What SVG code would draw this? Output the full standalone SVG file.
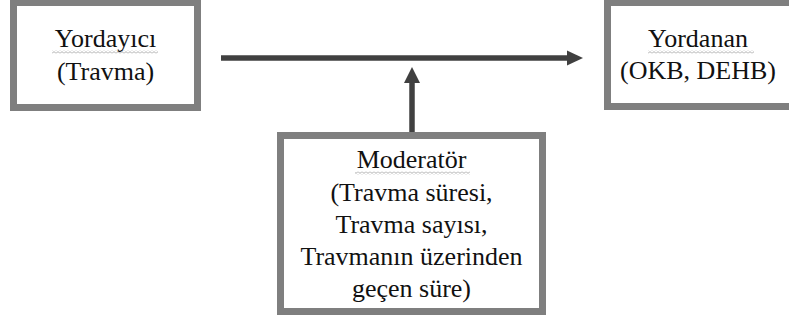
<svg xmlns="http://www.w3.org/2000/svg" width="789" height="320" viewBox="0 0 789 320">
  <style>
    .box { fill: #ffffff; stroke: #7f7f7f; stroke-width: 7; }
    .label { font-family: "Liberation Serif", "Times New Roman", Times, "DejaVu Serif", serif; font-size: 26px; fill: #111111; text-anchor: middle; }
    .wire { stroke: #404040; stroke-width: 5.5; fill: none; }
    .head { fill: #404040; }
  </style>
  <defs>
    <!-- wavy proofing underline -->
    <pattern id="squiggle" width="4" height="3" patternUnits="userSpaceOnUse">
      <path d="M0,2.4 L2,0.6 L4,2.4" fill="none" stroke="#a8a8a8" stroke-width="0.9"/>
    </pattern>
  </defs>
  <rect width="789" height="320" fill="#ffffff"/>

  <g id="connectors">
    <line class="wire" x1="221" y1="58" x2="569" y2="58"/>
    <polygon class="head" points="567,50.5 583,58 567,65.5"/>
    <line class="wire" x1="412" y1="132" x2="412" y2="81"/>
    <polygon class="head" points="404,83 420,83 412,67"/>
  </g>

  <g id="predictor">
    <rect class="box" x="13.5" y="2.5" width="184" height="105"/>
    <text class="label" x="105.5" y="47">Yordayıcı</text>
    <rect x="52" y="50.5" width="106" height="3" fill="url(#squiggle)"/>
    <text class="label" x="105.5" y="80">(Travma)</text>
  </g>

  <g id="outcome">
    <rect class="box" x="607.5" y="2.5" width="188" height="104"/>
    <text class="label" x="698" y="47">Yordanan</text>
    <rect x="648" y="50.5" width="106" height="3" fill="url(#squiggle)"/>
    <text class="label" x="698" y="79">(OKB, DEHB)</text>
  </g>

  <g id="moderator">
    <rect class="box" x="280.5" y="135.5" width="262" height="176"/>
    <text class="label" x="411.5" y="168">Moderatör</text>
    <rect x="355" y="171.5" width="115" height="3" fill="url(#squiggle)"/>
    <text class="label" x="411.5" y="201">(Travma süresi,</text>
    <text class="label" x="411.5" y="233">Travma sayısı,</text>
    <text class="label" x="411.5" y="265">Travmanın üzerinden</text>
    <text class="label" x="411.5" y="297">geçen süre)</text>
  </g>
</svg>
